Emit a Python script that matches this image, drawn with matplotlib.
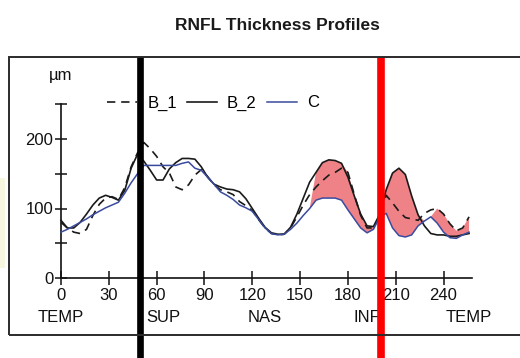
import numpy as np
import matplotlib
matplotlib.use("Agg")
import matplotlib.pyplot as plt
from matplotlib.patches import Rectangle

# Scan angle (degrees around the optic disc circle)
angle = np.arange(0, 257, 4)

# RNFL thickness (µm) for each scan
b1 = [80, 72, 66, 64, 70, 90, 106, 115, 117, 113, 130, 160, 180, 195, 186, 175,
      160, 151, 131, 127, 134, 148, 156, 146, 134, 127, 124, 120, 110, 104, 97, 84,
      72, 64, 62, 63, 72, 88, 105, 120, 131, 140, 148, 152, 158, 152, 120, 90,
      72, 72, 90, 119, 108, 96, 87, 85, 83, 93, 98, 100, 92, 78, 68, 72, 88]
b2 = [83, 72, 72, 80, 92, 105, 115, 119, 116, 112, 126, 158, 178, 168, 155, 141,
      141, 157, 166, 172, 172, 171, 160, 145, 135, 131, 128, 127, 124, 114, 100, 86,
      73, 65, 63, 63, 73, 92, 115, 138, 152, 166, 170, 169, 165, 145, 118, 92,
      75, 74, 92, 127, 151, 158, 149, 118, 91, 75, 64, 62, 62, 60, 60, 62, 64]
c = [66, 70, 75, 80, 85, 91, 96, 101, 105, 109, 122, 137, 150, 162, 162, 162,
     162, 162, 162, 165, 167, 158, 155, 145, 135, 124, 119, 113, 105, 101, 96, 84,
     72, 64, 62, 63, 70, 79, 90, 100, 112, 115, 115, 115, 112, 98, 85, 72,
     65, 70, 88, 93, 72, 61, 59, 62, 75, 82, 88, 79, 66, 58, 57, 62, 66]

# Sectors where the follow-up profile lies above the reference profile
excess_spans = [(160, 197), (203, 226), (236, 256)]

angle_ticks = [0, 30, 60, 90, 120, 150, 180, 210, 240]
thickness_ticks = [0, 50, 100, 150, 200, 250]
thickness_labels = ["0", "", "100", "", "200", ""]
sector_pos = [0, 64, 128, 192, 256]
sector_names = ["TEMP", "SUP", "NAS", "INF", "TEMP"]

marker_sup = 49.6
marker_inf = 201

plt.rcParams["font.family"] = ["Liberation Sans", "DejaVu Sans"]
FS = 12

W, H = 520, 358
fig = plt.figure(figsize=(W / 100, H / 100), dpi=100)
fig.patch.set_facecolor("white")

# faint tint along the left edge
fig.patches.append(Rectangle((0, (H - 268) / H), 5 / W, 90 / H,
                             transform=fig.transFigure, facecolor="#f7f7df",
                             edgecolor="none"))

# frame around the plot area
fig.patches.append(Rectangle((9 / W, (H - 335) / H), 1.2, (335 - 57) / H,
                             transform=fig.transFigure, facecolor="none",
                             edgecolor="#2b2b2b", linewidth=1.4))

ax = fig.add_axes([9 / W, 0, (W - 9) / W, (H - 57) / H])
ax.set_facecolor("none")
ax.set_xlim((9 - 61) / 1.594, (W - 61) / 1.594)
ax.set_ylim((278 - H) / 0.695, (278 - 57) / 0.695)

ax.fill_between(angle, c, np.maximum(b1, b2),
                where=[any(a <= x <= b for a, b in excess_spans) for x in angle],
                interpolate=True, facecolor="#ef7b80", edgecolor="none",
                alpha=0.95, zorder=1)

l1, = ax.plot(angle, b1, color="#1a1a1a", lw=1.2, ls=(0, (5, 3.5)), zorder=3,
              label="B_1")
l2, = ax.plot(angle, b2, color="#1a1a1a", lw=1.2, zorder=3, label="B_2")
l3, = ax.plot(angle, c, color="#3a4b9e", lw=1.1, zorder=4, label="C")

ax.axvline(marker_sup, color="black", lw=4.8, zorder=5)
ax.axvline(marker_inf, color="#ff0000", lw=5.5, zorder=5)

for s in ["top", "right"]:
    ax.spines[s].set_visible(False)
ax.spines["left"].set_position(("data", 0))
ax.spines["bottom"].set_position(("data", 0))
ax.spines["left"].set_bounds(0, 250)
ax.spines["bottom"].set_bounds(0, 258)
for s in ["left", "bottom"]:
    ax.spines[s].set_linewidth(1.2)
    ax.spines[s].set_color("#111111")

ax.set_xticks(angle_ticks)
ax.set_xticklabels([str(t) for t in angle_ticks])
ax.set_yticks(thickness_ticks)
ax.set_yticklabels(thickness_labels)
ax.tick_params(axis="x", direction="inout", length=10, width=1.1,
               labelsize=FS, pad=2.5, colors="#111111")
ax.tick_params(axis="y", direction="inout", length=8, width=1.1,
               labelsize=FS, pad=1.5, colors="#111111")

for p, name in zip(sector_pos, sector_names):
    ax.text(p, -57.5, name, ha="center", va="center", fontsize=FS,
            color="#111111")

ax.text(0, 291, "µm", ha="center", va="center", fontsize=FS, color="#111111")

ax.legend(handles=[l1, l2, l3], ncol=3, loc="center",
          bbox_to_anchor=((213 - 9) / 511, (H - 103) / 301), frameon=False,
          fontsize=FS, handlelength=1.8, handletextpad=0.6,
          columnspacing=0.6, borderaxespad=0)

fig.text(277 / W, 1 - 25 / H, "RNFL Thickness Profiles", ha="center",
         va="center", fontsize=12.5, fontweight="bold", color="#1a1a1a")

fig.savefig("out.png", dpi=100)
